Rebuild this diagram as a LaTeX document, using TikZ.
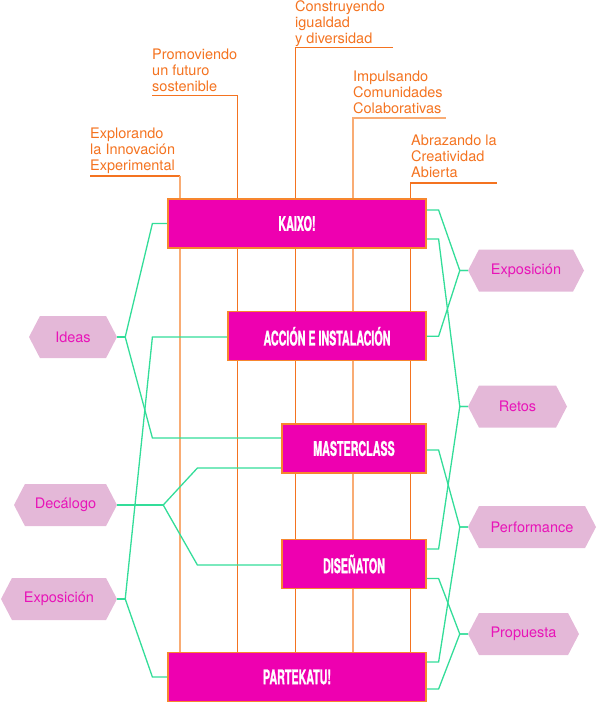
\documentclass[tikz,border=0pt]{standalone}
\usepackage{fontspec}
\setmainfont{TeX Gyre Heros}
\newfontfamily\stagefont[FakeStretch=0.53,FakeBold=1]{TeX Gyre Heros}
\usepackage{tikz}
\usetikzlibrary{shapes.symbols,calc,backgrounds}

\definecolor{magbox}{HTML}{EE00B0}
\definecolor{boxedge}{HTML}{F7862E}
\definecolor{hexfill}{HTML}{E4B8D8}
\definecolor{hextext}{HTML}{E814B8}
\definecolor{orangetxt}{HTML}{F47320}
\definecolor{orangelt}{HTML}{F9AC74}
\definecolor{linkgreen}{HTML}{33DD99}

\begin{document}
\begin{tikzpicture}[
    x=1pt, y=-1pt,
    %–––– GLOBAL STYLE TWEAKS ––––
    font=\fontsize{14.5}{16}\selectfont,
    stage/.style = {rectangle, draw=boxedge, line width=1.2pt,
                    fill=magbox, text=white, inner sep=0pt,
                    minimum height=49pt,
                    font=\stagefont\bfseries\fontsize{20.2}{22}\selectfont},
    hexa/.style  = {signal, signal to=east and west, signal pointer angle=125,
                    fill=hexfill, text=hextext, inner sep=0pt,
                    minimum height=42pt},
    toplabel/.style = {anchor=north west, align=left, inner sep=0pt, text=orangetxt},
    link/.style  = {draw=linkgreen, line width=1.3pt},
    pline/.style = {draw=orangetxt, line width=1.2pt},
    plinelt/.style = {draw=orangelt, line width=2pt},
]
\useasboundingbox (0,0) rectangle (597,703);

%–––– STAGES ––––
\node (kaixo)     [stage, minimum width=258pt] at (297,223.5) {KAIXO!};
\node (accion)    [stage, minimum width=198pt] at (327,336.3) {ACCIÓN E INSTALACIÓN};
\node (master)    [stage, minimum width=144pt] at (354,448.5) {MASTERCLASS};
\node (disenaton) [stage, minimum width=144pt] at (354,564)   {DISEÑATON};
\node (partekatu) [stage, minimum width=258pt] at (297,677)   {PARTEKATU!};

%–––– OUTPUTS (hexagons) ––––
\node (ideas) [hexa, minimum width=88pt]  at (73,337)    {Ideas};
\node (deca)  [hexa, minimum width=103pt] at (65.5,505)  {Decálogo};
\node (expoL) [hexa, minimum width=116pt] at (59,599)    {Exposición};
\node (expoR) [hexa, minimum width=116pt] at (526,270.5) {Exposición};
\node (retos) [hexa, minimum width=99pt]  at (517.5,406.5) {Retos};
\node (perf)  [hexa, minimum width=128pt] at (532,527)   {Performance};
\node (prop)  [hexa, minimum width=111pt] at (523.5,634) {Propuesta};

%–––– VALUES ––––
\node (expl) [toplabel] at (90,127.7)  {Explorando\\la Innovación\\Experimental};
\node (prom) [toplabel] at (152,48.3)  {Promoviendo\\un futuro\\sostenible};
\node (cons) [toplabel] at (295,0.3)   {Construyendo\\igualdad\\y diversidad};
\node (impu) [toplabel] at (353,71)    {Impulsando\\Comunidades\\Colaborativas};
\node (abra) [toplabel] at (411,135)   {Abrazando la\\Creatividad\\Abierta};

\begin{scope}[on background layer]
  %–––– VALUE LINES ––––
  \coordinate (col1) at (180,176);
  \coordinate (col2) at (237.5,95.7);
  \coordinate (col3) at (295.5,47.7);
  \coordinate (col4) at (353,118.3);
  \coordinate (col5) at (410.5,183);

  \draw[pline]   (expl.west |- col1) -- (col1);
  \draw[plinelt] (col1) -- (col1 |- partekatu.north);
  \draw[pline]   (prom.west |- col2) -- (col2) -- (col2 |- partekatu.north);
  \draw[pline]   (393,47.7) -- (col3) -- (col3 |- partekatu.north);
  \draw[plinelt] (445.7,118.3) -- (col4) -- (col4 |- partekatu.north);
  \draw[pline]   (496.7,183) -- (col5) -- (col5 |- partekatu.north);

  %–––– LINKS LEFT ––––
  \coordinate (jIdeas) at ($(ideas.east)+(8,0)$);
  \coordinate (jDeca)  at ($(deca.east)+(46,0)$);
  \coordinate (jExpo)  at ($(expoL.east)+(8,0)$);
  \draw[link] (ideas.east) -- (jIdeas);
  \draw[link] (deca.east) -- (jDeca);
  \draw[link] (expoL.east) -- (jExpo);
  \foreach \b/\dy/\len/\j in {kaixo/0/15/jIdeas, master/10.5/129/jIdeas,
                             master/-19.5/84/jDeca, disenaton/-1/84/jDeca,
                             accion/-0.7/75/jExpo, partekatu/0/15/jExpo}
    \draw[link] ([yshift=\dy pt]\b.west) -- ++(-\len,0) -- (\j);

  %–––– LINKS RIGHT ––––
  \foreach \h/\b/\dy in {expoR/kaixo/13.5, expoR/accion/0,
                         retos/kaixo/-15.5, retos/disenaton/15,
                         perf/master/-1.5, perf/partekatu/15,
                         prop/disenaton/-14.5, prop/partekatu/-12}
    \draw[link] (\h.west) -- ++(-8,0) -- ([shift={(12pt,\dy pt)}]\b.east) -- ([yshift=\dy pt]\b.east);
\end{scope}
\end{tikzpicture}
\end{document}
